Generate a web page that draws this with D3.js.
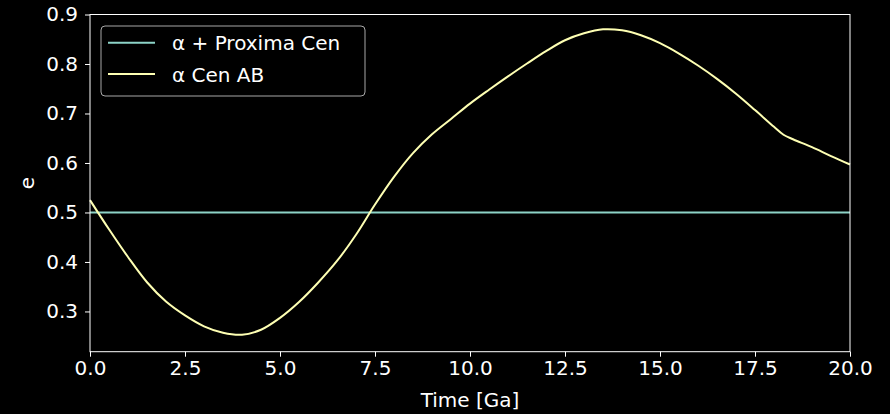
<!DOCTYPE html>
<html><head><meta charset="utf-8">
<script src="https://cdn.jsdelivr.net/npm/d3@7"></script>
<style>html,body{margin:0;padding:0;background:#000;}svg{display:block;}</style>
</head><body>
<svg id="chart" width="890" height="414"></svg>
<script>
const seriesNames = ["α + Proxima Cen", "α Cen AB"];
const timeGa = [0,0.5,1,1.5,2,2.5,3,3.5,4,4.5,5,5.5,6,6.5,7,7.5,8,8.5,9,9.5,10,10.5,11,11.5,12,12.5,13,13.5,14,14.5,15,15.5,16,16.5,17,17.5,18,18.25,18.5,19,19.5,20];
const eAB = [0.525,0.466,0.410,0.359,0.320,0.292,0.270,0.257,0.253,0.263,0.287,0.319,0.358,0.402,0.455,0.516,0.572,0.620,0.658,0.689,0.720,0.748,0.775,0.801,0.826,0.848,0.862,0.870,0.868,0.858,0.842,0.821,0.797,0.770,0.740,0.707,0.673,0.657,0.648,0.632,0.614,0.597];
const timeProx = [0, 20];
const eProx = [0.5, 0.5];
const xTicks = [0,2.5,5,7.5,10,12.5,15,17.5,20];
const yTicks = [0.3,0.4,0.5,0.6,0.7,0.8,0.9];
const colors = ["#8dd3c7", "#feffb3"];

const svg = d3.select("#chart");
const L = 90, R = 850, T = 14.5, B = 351.7;
const x = d3.scaleLinear().domain([0,20]).range([L,R]);
const y = d3.scaleLinear().domain([0.2187,0.9]).range([B,T]);
const font = "DejaVu Sans, sans-serif";

svg.append("rect").attr("width",890).attr("height",414).attr("fill","#000");

const line = d3.line().x(d=>x(d[0])).y(d=>y(d[1]));
const lineC = d3.line().x(d=>x(d[0])).y(d=>y(d[1])).curve(d3.curveCatmullRom.alpha(0.5));

const g = svg.append("g");
g.append("path").datum(timeProx.map((t,i)=>[t,eProx[i]])).attr("d",line)
  .attr("fill","none").attr("stroke",colors[0]).attr("stroke-width",2);
g.append("path").datum(timeGa.map((t,i)=>[t,eAB[i]])).attr("d",lineC)
  .attr("fill","none").attr("stroke",colors[1]).attr("stroke-width",2);

// frame
svg.append("rect").attr("x",L).attr("y",T).attr("width",R-L).attr("height",B-T)
  .attr("fill","none").attr("stroke","#fff").attr("stroke-width",1);

const xAxis = svg.append("g").attr("transform",`translate(0,${B})`)
  .call(d3.axisBottom(x).tickValues(xTicks).tickFormat(d3.format(".1f")).tickSize(5).tickPadding(4));
const yAxis = svg.append("g").attr("transform",`translate(${L},0)`)
  .call(d3.axisLeft(y).tickValues(yTicks).tickFormat(d3.format(".1f")).tickSize(5).tickPadding(7));
[xAxis,yAxis].forEach(a=>{
  a.select(".domain").remove();
  a.selectAll("line").attr("stroke","#fff");
  a.selectAll("text").attr("fill","#fff").style("font-family",font).style("font-size","20px");
});

svg.append("text").attr("x",(L+R)/2).attr("y",407).attr("text-anchor","middle")
  .attr("fill","#fff").style("font-family",font).style("font-size","20px").text("Time [Ga]");
svg.append("text").attr("transform",`translate(34,${(T+B)/2}) rotate(-90)`).attr("text-anchor","middle")
  .attr("fill","#fff").style("font-family",font).style("font-size","20px").text("e");

// legend
const lg = svg.append("g");
lg.append("rect").attr("x",101).attr("y",26).attr("width",264).attr("height",70).attr("rx",4)
  .attr("fill","#000").attr("fill-opacity",0.8).attr("stroke","#a8a8a8").attr("stroke-width",1);
const legY = [42.7, 74];
seriesNames.forEach((n,i)=>{
  lg.append("line").attr("x1",108).attr("x2",155).attr("y1",legY[i]).attr("y2",legY[i])
    .attr("stroke",colors[i]).attr("stroke-width",2);
  lg.append("text").attr("x",172).attr("y",legY[i]+7.5).attr("fill","#fff")
    .style("font-family",font).style("font-size","20px").text(n);
});
</script>
</body></html>
